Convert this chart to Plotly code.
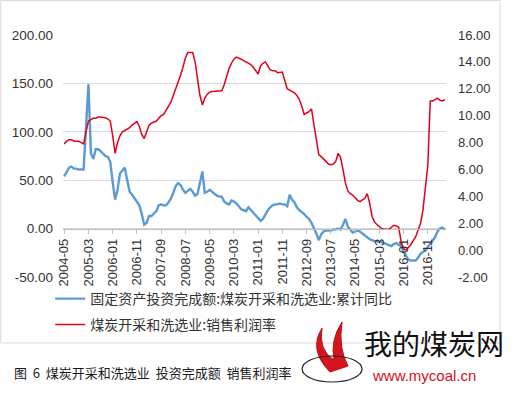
import plotly.graph_objects as go

# ---------------- data ----------------
start_year, start_month, n_months = 2004, 5, 158
months = []
y_, m_ = start_year, start_month
for _ in range(n_months):
    months.append(f"{y_}-{m_:02d}")
    m_ += 1
    if m_ > 12:
        m_ = 1
        y_ += 1

invest_yoy = [
    54, 58, 63, 64, 62, 62, 61, 61, 61, 105,
    149, 78, 72, 82, 82, 80, 77, 75, 74, 69,
    48, 30, 40, 57, 60, 63, 50, 38, 35, 31,
    28, 24, 15, 4, 6, 13, 13, 16, 18, 24,
    25, 24, 24, 27, 31, 37, 44, 47, 45, 40,
    37, 39, 41, 38, 34, 36, 48, 59, 37, 38,
    40, 38, 36, 34, 33, 33, 28, 26, 25, 29,
    28, 26, 23, 20, 19, 18, 22, 19, 17, 14,
    11, 8, 10, 15, 19, 22, 24, 25, 25, 26,
    25, 25, 23, 35, 30, 27, 22, 19, 17, 15,
    12, 10, 6, 1, -5, -12, -6, -3, -2, -2,
    -2, -1, -1, 0, -1, 4, 10, 2, -1, -4,
    -3, -2, -3, -5, -7, -9, -11, -12, -13, -13,
    -14, -14, -15, -16, -17, -18, -16, -15, -17, -18,
    -24, -28, -32, -33, -33, -33, -30, -26, -24, -23,
    -19, -16, -13, -9, -3, 0, 1, -1,
]

profit_margin = [
    7.9, 8.1, 8.2, 8.2, 8.1, 8.1, 8.1, 8.0, 7.9, 8.8,
    9.6, 9.7, 9.8, 9.8, 9.9, 9.9, 9.9, 9.85, 9.75, 9.6,
    8.5, 7.2, 8.0, 8.5, 8.8, 8.9, 9.0, 9.1, 9.3, 9.4,
    9.55, 9.2, 8.6, 8.3, 8.8, 9.3, 9.45, 9.5, 9.6, 9.8,
    10.0, 10.1, 10.4, 10.7, 11.0, 11.5, 12.0, 12.4, 13.0, 13.6,
    14.3, 14.7, 14.7, 14.7, 14.0, 12.8, 11.5, 10.8, 11.3, 11.6,
    11.75, 11.8, 11.8, 11.8, 11.8, 11.85, 12.3, 12.9, 13.5, 13.9,
    14.2, 14.35, 14.3, 14.2, 14.1, 14.0, 13.9, 13.8, 13.6, 13.35,
    13.1, 13.7, 13.9, 14.0, 13.7, 13.4, 13.35, 13.35, 13.2, 13.25,
    13.25, 12.6, 12.0, 11.9, 11.8, 11.7, 11.5, 11.2, 10.7, 10.1,
    10.2, 10.3, 10.5, 9.3, 8.0, 7.1, 6.95, 6.8, 6.6, 6.4,
    6.35, 6.4, 6.6, 7.2, 6.9, 6.0, 5.0, 4.4, 4.2, 4.1,
    3.9, 3.7, 3.6, 3.7, 3.85, 4.2, 3.5, 2.5, 2.1, 1.9,
    1.75, 1.6, 1.55, 1.55, 1.55, 1.7, 1.85, 1.8, 1.7, 0.6,
    0.1, 0.0, 0.2, 0.4, 0.7, 1.0, 1.5, 2.0, 3.0, 4.7,
    6.3, 11.1, 11.1, 11.2, 11.3, 11.15, 11.1, 11.2,
]

x_tick_labels = months[::10]
left_tick_vals = [-50, 0, 50, 100, 150, 200]
left_tick_text = ["-50.00", "0.00", "50.00", "100.00", "150.00", "200.00"]
right_tick_vals = [-2, 0, 2, 4, 6, 8, 10, 12, 14, 16]
right_tick_text = ["-2.00", "0.00", "2.00", "4.00", "6.00", "8.00",
                   "10.00", "12.00", "14.00", "16.00"]

name_invest = "固定资产投资完成额:煤炭开采和洗选业:累计同比"
name_profit = "煤炭开采和洗选业:销售利润率"
caption = "图  6  煤炭开采和洗选业  投资完成额  销售利润率"

# ---------------- figure ----------------
BLUE = "#5B9BD5"
RED = "#E2001A"
NUM_FONT = "Liberation Sans, Arial, sans-serif"
CJK_FONT = "Noto Sans CJK SC, sans-serif"

fig = go.Figure()
fig.add_trace(go.Scatter(
    x=months, y=invest_yoy, mode="lines", name=name_invest,
    line=dict(color=BLUE, width=2.4), legend="legend", yaxis="y",
))
fig.add_trace(go.Scatter(
    x=months, y=profit_margin, mode="lines", name=name_profit,
    line=dict(color=RED, width=1.5), legend="legend2", yaxis="y2",
))

W, H = 516, 395
ml, mr, mt, mb = 62.8, 70, 35, 118
pw, ph = W - ml - mr, H - mt - mb

def px_x(x):
    return (x - ml) / pw

def px_y(y):
    return (H - mb - y) / ph

y_range = [-50, 200]
zero_pos = (0 - y_range[0]) / (y_range[1] - y_range[0])

fig.update_layout(
    width=W, height=H,
    margin=dict(l=ml, r=mr, t=mt, b=mb, autoexpand=False),
    paper_bgcolor="white", plot_bgcolor="white",
    font=dict(family=NUM_FONT, size=13, color="#333333"),
    xaxis=dict(
        type="category", range=[-0.5, n_months - 0.5],
        tickmode="array", tickvals=x_tick_labels, ticktext=x_tick_labels,
        tickangle=-90, tickfont=dict(size=13, color="#333333"),
        showgrid=False, showline=True, linecolor="#BFBFBF", linewidth=1,
        ticks="outside", ticklen=4, tickcolor="#BFBFBF",
        anchor="free", position=zero_pos, zeroline=False, automargin=False,
    ),
    yaxis=dict(
        range=y_range, tickmode="array", tickvals=left_tick_vals,
        ticktext=left_tick_text, showgrid=True, gridcolor="#D9D9D9",
        gridwidth=1, zeroline=False, showline=False, automargin=False,
        ticklabelstandoff=9, tickfont=dict(size=13.5),
    ),
    yaxis2=dict(
        range=[-2, 16], overlaying="y", side="right",
        tickmode="array", tickvals=right_tick_vals, ticktext=right_tick_text,
        showgrid=False, zeroline=False, showline=False, automargin=False,
        ticklabelstandoff=11, tickfont=dict(size=13),
    ),
    legend=dict(
        x=px_x(50), y=px_y(299), xanchor="left", yanchor="middle",
        font=dict(family=CJK_FONT, size=14, color="#333333"),
        bgcolor="rgba(0,0,0,0)",
    ),
    legend2=dict(
        x=px_x(50), y=px_y(325), xanchor="left", yanchor="middle",
        font=dict(family=CJK_FONT, size=14, color="#333333"),
        bgcolor="rgba(0,0,0,0)",
    ),
    showlegend=True,
)

# chart frame
fig.add_shape(type="rect", xref="paper", yref="paper",
              x0=px_x(0.5), x1=px_x(500), y0=px_y(343), y1=px_y(0.5),
              line=dict(color="#D9D9D9", width=1), layer="below")

# caption
fig.add_annotation(text=caption, xref="paper", yref="paper",
                   x=px_x(12), y=px_y(372), xanchor="left", yanchor="middle",
                   showarrow=False,
                   font=dict(family=CJK_FONT, size=13, color="#1a1a1a"))

# watermark logo
fig.add_shape(type="path", xref="paper", yref="paper",
              path=(f"M {px_x(330)},{px_y(372)} "
                    f"Q {px_x(308)},{px_y(350)} {px_x(322)},{px_y(328)} "
                    f"Q {px_x(318)},{px_y(350)} {px_x(334)},{px_y(360)} "
                    f"Q {px_x(330)},{px_y(340)} {px_x(342)},{px_y(322)} "
                    f"Q {px_x(338)},{px_y(348)} {px_x(348)},{px_y(366)} Z"),
              fillcolor="#D7141E", line=dict(color="#B0101A", width=1))
fig.add_shape(type="circle", xref="paper", yref="paper",
              x0=px_x(302), x1=px_x(362), y0=px_y(382), y1=px_y(356),
              line=dict(color="#222222", width=1.2))
fig.add_annotation(text="我的煤炭网", xref="paper", yref="paper",
                   x=px_x(362), y=px_y(343), xanchor="left", yanchor="middle",
                   showarrow=False,
                   font=dict(family=CJK_FONT, size=28, color="#111111"))
fig.add_annotation(text="www.mycoal.cn", xref="paper", yref="paper",
                   x=px_x(370), y=px_y(375), xanchor="left", yanchor="middle",
                   showarrow=False,
                   font=dict(family=NUM_FONT, size=15, color="#D0101E"))

fig.write_html(
    "out.html",
    config={"displayModeBar": False},
    post_script="document.body.style.margin='0';document.body.style.overflow='hidden';",
)
